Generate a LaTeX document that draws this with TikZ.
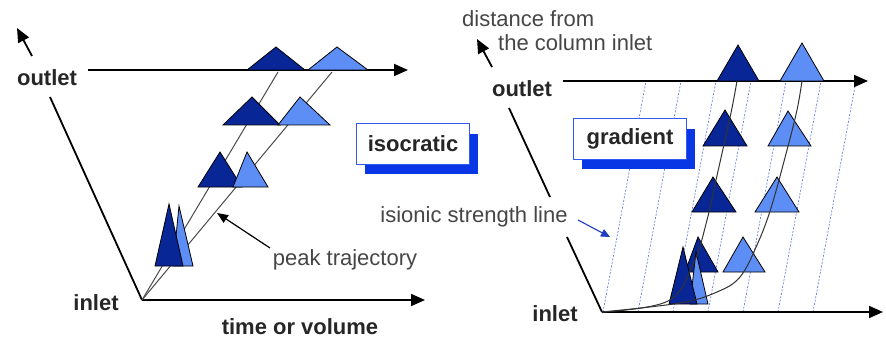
\documentclass[tikz,border=0pt]{standalone}
\usepackage{fontspec}
\setmainfont{Liberation Sans}
\usetikzlibrary{arrows.meta,shadows}
\definecolor{darkpk}{RGB}{8,38,150}
\definecolor{lightpk}{RGB}{92,142,245}
\definecolor{boxblue}{RGB}{50,90,240}
\definecolor{shadblue}{RGB}{10,55,230}
\definecolor{txtgray}{RGB}{70,70,70}
\definecolor{isoblue}{RGB}{85,115,225}
\definecolor{arrblue}{RGB}{30,60,190}
\newcommand\drawpeak[6]{\filldraw[peakshape,fill=#6] (#1,#3) -- (#4,#5) -- (#2,#3) -- cycle;}
\begin{document}
\begin{tikzpicture}[x=1pt,y=-1pt,
  axis/.style={line width=1.8pt,-{Triangle[length=14pt,width=12pt]}},
  frame/.style={line width=1.8pt},
  peakshape/.style={draw=black,line width=0.8pt,line join=miter},
  traj/.style={draw=black!70,line width=1pt},
  lbl/.style={font=\fontsize{22}{26}\selectfont\bfseries,text=black!85,inner sep=0pt},
  note/.style={font=\fontsize{22}{26}\selectfont,text=txtgray,inner sep=0pt},
  modebox/.style={draw=boxblue,line width=1pt,fill=white,minimum width=113pt,minimum height=40pt,inner sep=0pt,
     font=\fontsize{22}{26}\selectfont\bfseries,text=black!85,
     drop shadow={shadow xshift=8pt,shadow yshift=-10pt,fill=shadblue,opacity=1}},
  iso/.style={draw=isoblue,line width=0.6pt,dash pattern=on 2pt off 1.5pt}
]
\useasboundingbox[fill=white] (0,0) rectangle (886,342);

% ---------------- left panel (isocratic) ----------------
\coordinate (Lo) at (142,300);
\coordinate (Lx) at (425,300);
\coordinate (Los) at (88,70);
\coordinate (Loe) at (408,70);
\coordinate (Ld) at (50,97);
\coordinate (La1) at (32,56);
\coordinate (La2) at (17,28);
\coordinate (Ltd) at (278,72);
\coordinate (Ltl) at (332,72);

\draw[axis] (Lo) -- (Lx);
\draw[axis] (Los) -- (Loe);
\draw[frame] (Ld) -- (Lo);
\draw[axis] (La1) -- (La2);

\draw[traj] (Lo) -- (Ltd);
\draw[traj] (Lo) -- (Ltl);

\drawpeak{247}{305}{70}{276}{47}{darkpk}
\drawpeak{308}{368}{70}{337}{47}{lightpk}
\drawpeak{223}{280}{125}{252}{97}{darkpk}
\drawpeak{278}{330}{125}{300}{97}{lightpk}
\drawpeak{198}{242}{187}{220}{152}{darkpk}
\drawpeak{233}{268}{187}{247}{152}{lightpk}
\drawpeak{173}{193}{266}{179}{206}{lightpk}
\drawpeak{155}{183}{266}{169}{204}{darkpk}

\node[lbl] (Lout) at (47,78) {outlet};
\node[lbl] (Lin) at (96,303) {inlet};
\node[lbl] (time) at (300,327) {time or volume};
\node[note] (peaktr) at (345,260) {peak trajectory};
\coordinate (Pa1) at (270,248);
\coordinate (Pa2) at (217,213);
\draw[line width=1.2pt,-{Triangle[length=11pt,width=9pt]}] (Pa1) -- (Pa2);

\node[modebox] (isoc) at (413,144) {isocratic};

% ---------------- right panel (gradient) ----------------
\coordinate (Ro) at (602,312);
\coordinate (Rx) at (883,312);
\coordinate (Ros) at (563,81);
\coordinate (Roe) at (868,81);
\coordinate (Rd1) at (509,108);
\coordinate (Rd2) at (550,197);
\coordinate (Rd3) at (567,237);
\coordinate (Ra1) at (492,67);
\coordinate (Ra2) at (477,39);

\foreach \i in {0,...,6}{
  \draw[iso] (603+35*\i,312) -- (646+35*\i,81);
}

\draw[axis] (Ro) -- (Rx);
\draw[axis] (Ros) -- (Roe);
\draw[frame] (Rd1) -- (Rd2);
\draw[frame] (Rd3) -- (Ro);
\draw[axis] (Ra1) -- (Ra2);

\drawpeak{717}{759}{81}{738}{45}{darkpk}
\drawpeak{780}{824}{81}{802}{43}{lightpk}
\drawpeak{703}{747}{146}{725}{110}{darkpk}
\drawpeak{768}{811}{146}{788}{111}{lightpk}
\drawpeak{692}{736}{212}{713}{177}{darkpk}
\drawpeak{755}{799}{212}{777}{177}{lightpk}
\drawpeak{685}{718}{272}{698}{237}{darkpk}
\drawpeak{723}{765}{272}{743}{237}{lightpk}
\drawpeak{690}{708}{304}{696}{252}{lightpk}
\drawpeak{669}{697}{304}{683}{247}{darkpk}

\draw[traj,draw=black!80] plot[smooth,tension=0.6] coordinates
  {(602,312) (668,301) (694,262) (707,220) (716,180) (725,140) (732,108) (737,81)};
\draw[traj,draw=black!80] plot[smooth,tension=0.6] coordinates
  {(602,312) (680,303) (717,292) (740,277) (757,245) (771,208) (787,150) (797,110) (802,81)};

\node[lbl] (Rout) at (522,89) {outlet};
\node[lbl] (Rin) at (555,314) {inlet};
\node[note,anchor=west] (dist1) at (462,19) {distance from};
\node[note,anchor=west] (dist2) at (498,43) {the column inlet};
\node[note] (isl) at (474,217) {isionic strength line};
\coordinate (Ia1) at (578,220);
\coordinate (Ia2) at (610,237);
\draw[arrblue,line width=1.1pt,-{Triangle[length=9pt,width=8pt]}] (Ia1) -- (Ia2);

\node[modebox] (grad) at (630,139) {gradient};
\end{tikzpicture}
\end{document}
